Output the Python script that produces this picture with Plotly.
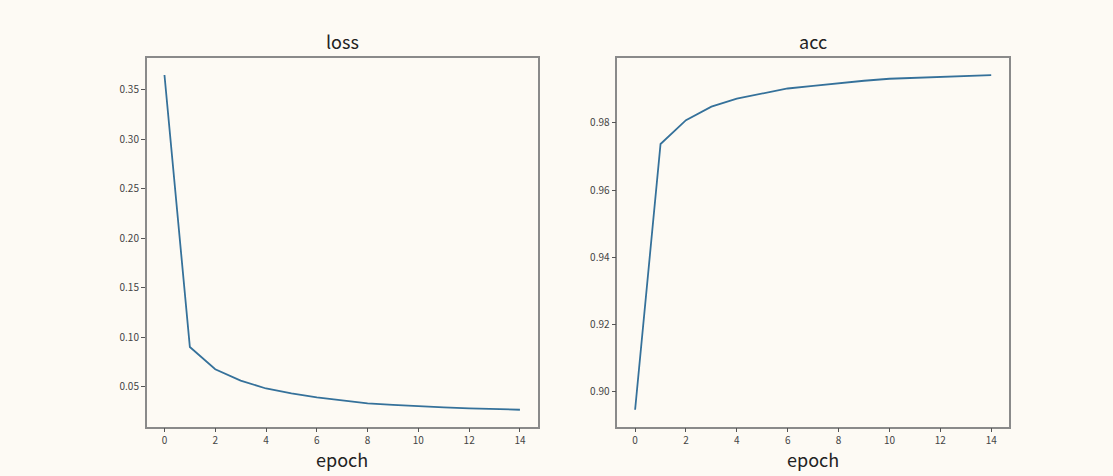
import plotly.graph_objects as go

epochs = list(range(15))
loss = [0.365, 0.090, 0.0675, 0.056, 0.048, 0.043, 0.039, 0.036, 0.033,
        0.0315, 0.030, 0.029, 0.028, 0.027, 0.0265]
acc = [0.8947, 0.9737, 0.9808, 0.9848, 0.9872, 0.9888, 0.9902, 0.9910,
       0.9918, 0.9925, 0.9931, 0.9934, 0.9937, 0.9940, 0.9942]
x_ticks = [0, 2, 4, 6, 8, 10, 12, 14]
loss_ticks = [0.05, 0.10, 0.15, 0.20, 0.25, 0.30, 0.35]
acc_ticks = [0.90, 0.92, 0.94, 0.96, 0.98]

W, H = 1113, 476
BG = "#fdfaf4"
LINE = "#35719a"
FRAME = "#8a8a8a"
FONT = "Noto Sans CJK SC"

fig = go.Figure()
fig.add_trace(go.Scatter(x=epochs, y=loss, mode="lines",
                         line=dict(color=LINE, width=1.8), xaxis="x", yaxis="y",
                         showlegend=False))
fig.add_trace(go.Scatter(x=epochs, y=acc, mode="lines",
                         line=dict(color=LINE, width=1.8), xaxis="x2", yaxis="y2",
                         showlegend=False))

def span(vals):
    lo, hi = min(vals), max(vals)
    m = (hi - lo) * 0.05
    return [lo - m, hi + m]

ax_common = dict(showline=True, mirror=True, linecolor=FRAME, linewidth=1.5,
                 ticks="outside", ticklen=4, tickcolor="#555", tickwidth=1,
                 showgrid=False, zeroline=False,
                 tickfont=dict(family=FONT, size=10, color="#444"))

title_font = dict(family=FONT, size=18, color="#222")

top = 1 - 58.3 / H
bot = 1 - 426.5 / H
fig.update_layout(
    width=W, height=H,
    margin=dict(l=0, r=0, t=0, b=0, autoexpand=False),
    paper_bgcolor=BG, plot_bgcolor=BG,
    xaxis=dict(domain=[146.7 / W, 537.7 / W], range=[-0.7, 14.7],
               tickvals=x_ticks, anchor="y", **ax_common),
    yaxis=dict(domain=[bot, top], range=span(loss), tickvals=loss_ticks,
               tickformat=".2f", anchor="x", **ax_common),
    xaxis2=dict(domain=[617.3 / W, 1009 / W], range=[-0.7, 14.7],
                tickvals=x_ticks, anchor="y2", **ax_common),
    yaxis2=dict(domain=[bot, top], range=span(acc), tickvals=acc_ticks,
                tickformat=".2f", anchor="x2", **ax_common),
    annotations=[
        dict(text="loss", x=0.5, y=1, xref="x domain", yref="y domain",
             xanchor="center", yanchor="bottom", yshift=2, showarrow=False,
             font=title_font),
        dict(text="acc", x=0.5, y=1, xref="x2 domain", yref="y2 domain",
             xanchor="center", yanchor="bottom", yshift=2, showarrow=False,
             font=title_font),
        dict(text="epoch", x=0.5, y=0, xref="x domain", yref="y domain",
             xanchor="center", yanchor="top", yshift=-17, showarrow=False,
             font=title_font),
        dict(text="epoch", x=0.5, y=0, xref="x2 domain", yref="y2 domain",
             xanchor="center", yanchor="top", yshift=-17, showarrow=False,
             font=title_font),
    ],
)

fig.write_html(
    "out.html",
    config={"displayModeBar": False},
    post_script=("document.body.style.margin='0';"
                 "document.body.style.background='" + BG + "';"),
)
